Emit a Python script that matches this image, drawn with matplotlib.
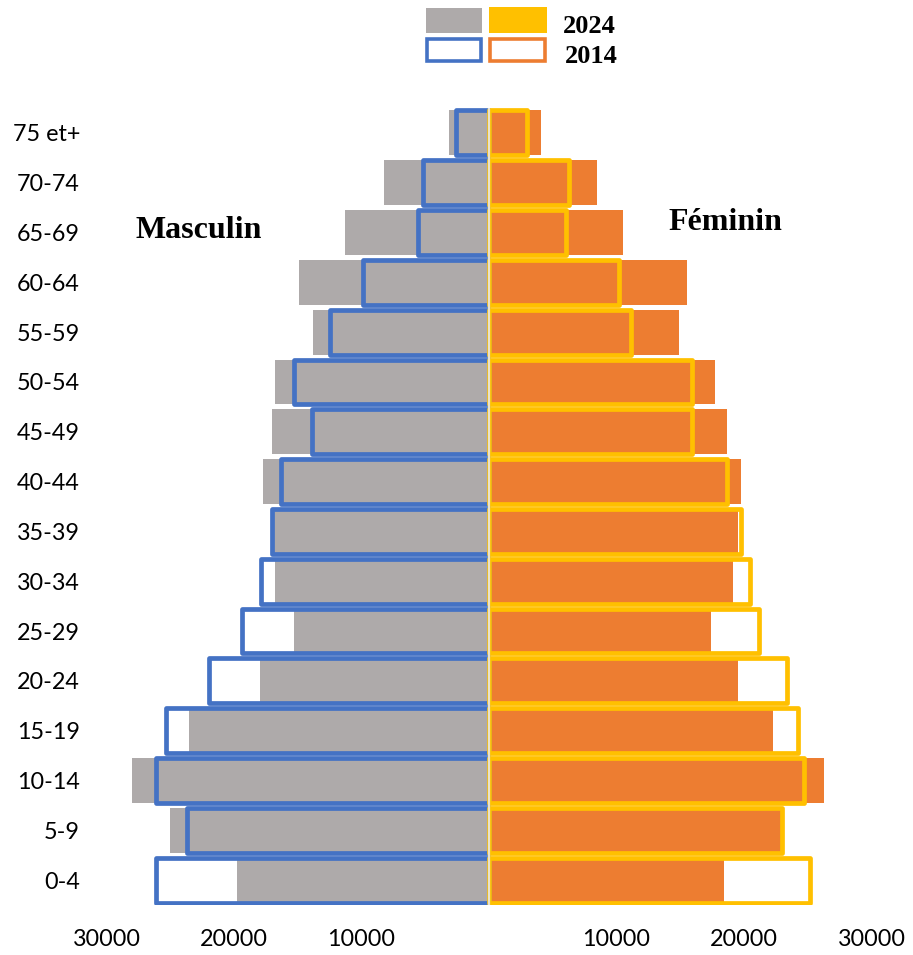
import numpy as np
import matplotlib
matplotlib.use("Agg")
import matplotlib.pyplot as plt
from matplotlib.patches import Rectangle
from matplotlib.ticker import FuncFormatter

# age groups, bottom to top
ages = ['0-4', '5-9', '10-14', '15-19', '20-24', '25-29', '30-34', '35-39',
        '40-44', '45-49', '50-54', '55-59', '60-64', '65-69', '70-74', '75 et+']

# 2024 (filled bars)
male_2024 = [19800, 25000, 28000, 23500, 18000, 15300, 16800, 16900,
             17700, 17000, 16800, 13800, 14900, 11300, 8200, 3100]
female_2024 = [18400, 22900, 26300, 22300, 19500, 17400, 19100, 19500,
               19800, 18700, 17700, 14900, 15500, 10500, 8500, 4100]

# 2014 (outlined bars)
male_2014 = [26100, 23700, 26100, 25300, 22000, 19400, 17900, 17000,
             16300, 13900, 15300, 12500, 9900, 5600, 5200, 2600]
female_2014 = [25200, 23000, 24700, 24200, 23400, 21200, 20500, 19800,
               18700, 15900, 15900, 11100, 10200, 6000, 6300, 3000]

xticks = [-30000, -20000, -10000, 10000, 20000, 30000]

GRAY = '#AEAAAA'
ORANGE = '#ED7D31'
BLUE = '#4472C4'
YELLOW = '#FFC000'

W, H = 913, 955
fig = plt.figure(figsize=(W / 100, H / 100), dpi=100)
ax = fig.add_axes([106.5 / W, 1 - 905 / H, 765 / W, 797 / H])

y = np.arange(len(ages))
bh = 0.9

ax.barh(y, -np.array(male_2024), height=bh, color=GRAY, zorder=1)
ax.barh(y, female_2024, height=bh, color=ORANGE, zorder=1)
ax.barh(y, -np.array(male_2014), height=bh, facecolor='none',
        edgecolor=BLUE, linewidth=3.4, joinstyle='round', zorder=2)
ax.barh(y, female_2014, height=bh, facecolor='none',
        edgecolor=YELLOW, linewidth=3.4, joinstyle='round', zorder=3)
ax.axvline(0, color='#E8E2CC', linewidth=1.6, zorder=4)

ax.set_xlim(-30000, 30000)
ax.set_ylim(-0.5, len(ages) - 0.5)
ax.set_xticks(xticks)
ax.xaxis.set_major_formatter(FuncFormatter(lambda v, p: f"{abs(int(v))}"))
ax.set_yticks(y, ages)
ax.tick_params(length=0, labelsize=16.8)
ax.tick_params(axis='y', pad=19)
ax.tick_params(axis='x', pad=17)
for lab in ax.get_xticklabels() + ax.get_yticklabels():
    lab.set_fontfamily('Lato')
for s in ax.spines.values():
    s.set_visible(False)

serif = dict(family='Liberation Serif', weight='bold', color='black')
fig.text(135 / W, 1 - 238 / H, 'Masculin', fontsize=23, ha='left', va='baseline', **serif)
fig.text(668 / W, 1 - 230 / H, 'Féminin', fontsize=23, ha='left', va='baseline', **serif)

# legend block at the top
def box(x0, y0, x1, y1, **kw):
    fig.add_artist(Rectangle((x0 / W, 1 - y1 / H), (x1 - x0) / W, (y1 - y0) / H,
                             transform=fig.transFigure, **kw))

box(426, 8, 482, 33, facecolor=GRAY, edgecolor='none')
box(489, 7, 547, 33, facecolor=YELLOW, edgecolor='none')
box(427, 39, 481, 61, facecolor='white', edgecolor=BLUE, linewidth=2.6)
box(490, 39, 545, 61, facecolor='white', edgecolor=ORANGE, linewidth=2.6)
fig.text(563 / W, 1 - 33 / H, '2024', fontsize=19, ha='left', va='baseline', **serif)
fig.text(565 / W, 1 - 63 / H, '2014', fontsize=19, ha='left', va='baseline', **serif)

fig.savefig('out.png', dpi=100)
